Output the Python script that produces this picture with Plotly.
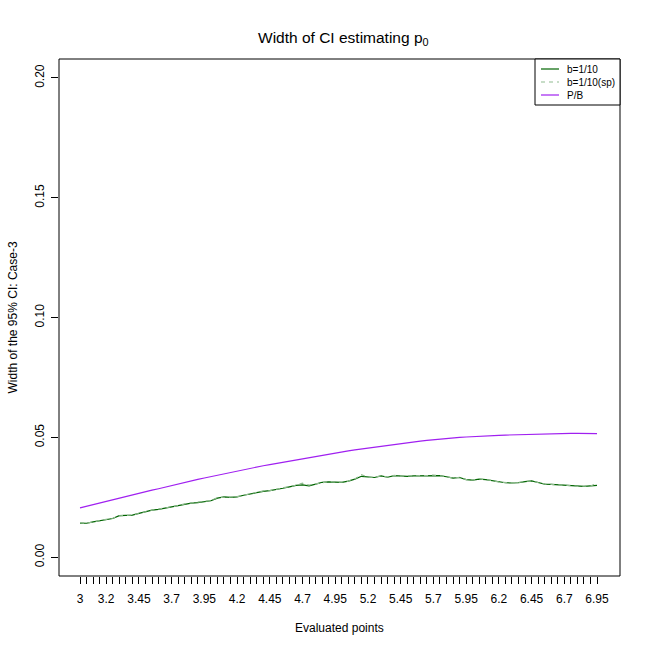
import plotly.graph_objects as go

x_points = [3.00, 3.05, 3.10, 3.15, 3.20, 3.25, 3.30, 3.35, 3.40, 3.45,
            3.50, 3.55, 3.60, 3.65, 3.70, 3.75, 3.80, 3.85, 3.90, 3.95,
            4.00, 4.05, 4.10, 4.15, 4.20, 4.25, 4.30, 4.35, 4.40, 4.45,
            4.50, 4.55, 4.60, 4.65, 4.70, 4.75, 4.80, 4.85, 4.90, 4.95,
            5.00, 5.05, 5.10, 5.15, 5.20, 5.25, 5.30, 5.35, 5.40, 5.45,
            5.50, 5.55, 5.60, 5.65, 5.70, 5.75, 5.80, 5.85, 5.90, 5.95,
            6.00, 6.05, 6.10, 6.15, 6.20, 6.25, 6.30, 6.35, 6.40, 6.45,
            6.50, 6.55, 6.60, 6.65, 6.70, 6.75, 6.80, 6.85, 6.90, 6.95]

labelled_points = [3.00, 3.20, 3.45, 3.70, 3.95, 4.20, 4.45, 4.70, 4.95,
                   5.20, 5.45, 5.70, 5.95, 6.20, 6.45, 6.70, 6.95]
labelled_text = ["3", "3.2", "3.45", "3.7", "3.95", "4.2", "4.45", "4.7", "4.95",
                 "5.2", "5.45", "5.7", "5.95", "6.2", "6.45", "6.7", "6.95"]

b_1_10 = [0.0143, 0.0142, 0.0148, 0.0152, 0.0156, 0.0162, 0.0174, 0.0175, 0.0176, 0.0183,
          0.0190, 0.0197, 0.0200, 0.0205, 0.0210, 0.0216, 0.0222, 0.0226, 0.0228, 0.0231,
          0.0236, 0.0247, 0.0252, 0.0250, 0.0252, 0.0259, 0.0265, 0.0271, 0.0275, 0.0278,
          0.0282, 0.0288, 0.0294, 0.0300, 0.0302, 0.0298, 0.0305, 0.0313, 0.0315, 0.0314,
          0.0313, 0.0318, 0.0326, 0.0338, 0.0335, 0.0333, 0.0340, 0.0334, 0.0341, 0.0339,
          0.0338, 0.0340, 0.0340, 0.0341, 0.0342, 0.0341, 0.0336, 0.0330, 0.0333, 0.0324,
          0.0322, 0.0326, 0.0324, 0.0319, 0.0314, 0.0311, 0.0310, 0.0311, 0.0316, 0.0319,
          0.0312, 0.0305, 0.0304, 0.0302, 0.0299, 0.0298, 0.0296, 0.0296, 0.0298, 0.0300]

b_1_10_sp = [0.0145, 0.0141, 0.0148, 0.0153, 0.0156, 0.0163, 0.0173, 0.0175, 0.0177, 0.0183,
             0.0191, 0.0197, 0.0201, 0.0205, 0.0211, 0.0216, 0.0223, 0.0226, 0.0229, 0.0231,
             0.0237, 0.0249, 0.0251, 0.0250, 0.0253, 0.0259, 0.0266, 0.0271, 0.0277, 0.0278,
             0.0283, 0.0288, 0.0295, 0.0301, 0.0309, 0.0301, 0.0306, 0.0312, 0.0316, 0.0314,
             0.0314, 0.0318, 0.0327, 0.0345, 0.0334, 0.0334, 0.0340, 0.0335, 0.0342, 0.0339,
             0.0339, 0.0340, 0.0341, 0.0341, 0.0343, 0.0340, 0.0337, 0.0330, 0.0334, 0.0324,
             0.0323, 0.0327, 0.0324, 0.0320, 0.0314, 0.0312, 0.0310, 0.0312, 0.0317, 0.0318,
             0.0312, 0.0306, 0.0304, 0.0303, 0.0299, 0.0299, 0.0296, 0.0297, 0.0297, 0.0310]

p_b = [0.0206, 0.0213, 0.0219, 0.0226, 0.0233, 0.0240, 0.0246, 0.0253, 0.0260, 0.0266,
       0.0273, 0.0280, 0.0286, 0.0293, 0.0299, 0.0306, 0.0312, 0.0318, 0.0325, 0.0331,
       0.0337, 0.0343, 0.0349, 0.0355, 0.0360, 0.0366, 0.0371, 0.0377, 0.0382, 0.0387,
       0.0392, 0.0397, 0.0402, 0.0407, 0.0412, 0.0417, 0.0421, 0.0426, 0.0430, 0.0435,
       0.0439, 0.0444, 0.0448, 0.0452, 0.0456, 0.0460, 0.0464, 0.0468, 0.0472, 0.0475,
       0.0479, 0.0482, 0.0485, 0.0488, 0.0491, 0.0494, 0.0496, 0.0498, 0.0500, 0.0502,
       0.0504, 0.0506, 0.0507, 0.0508, 0.0509, 0.0510, 0.0511, 0.0512, 0.0513, 0.0514,
       0.0515, 0.0515, 0.0516, 0.0516, 0.0517, 0.0517, 0.0517, 0.0517, 0.0516, 0.0516]

series_names = ["b=1/10", "b=1/10(sp)", "P/B"]
series_colors = ["#006400", "#8fbc8f", "#a020f0"]
series_dashes = ["solid", "4px,4px", "solid"]

y_ticks = [0.00, 0.05, 0.10, 0.15, 0.20]
y_ticktext = ["0.00", "0.05", "0.10", "0.15", "0.20"]

tick_text_all = []
for xv in x_points:
    match = [t for v, t in zip(labelled_points, labelled_text) if abs(v - xv) < 1e-9]
    tick_text_all.append(match[0] if match else "")

FONT = "Liberation Sans, Arial, sans-serif"

fig = go.Figure()
for ys, nm, col, dsh in zip([b_1_10, b_1_10_sp, p_b], series_names, series_colors, series_dashes):
    fig.add_trace(go.Scatter(x=x_points, y=ys, mode="lines", name=nm,
                             line=dict(color=col, width=1.2, dash=dsh), showlegend=False))

# manual R-style legend (paper coordinates of the plot frame)
PW, PH = 561.0, 517.0
def px_x(p):
    return (p - 59) / PW
def px_y(p):
    return (576 - p) / PH

shapes = [dict(type="rect", xref="paper", yref="paper", x0=0, x1=1, y0=0, y1=1,
               line=dict(color="black", width=1), fillcolor="rgba(0,0,0,0)", layer="above"),
          dict(type="rect", xref="paper", yref="paper", x0=px_x(535), x1=1, y0=px_y(105), y1=1,
               line=dict(color="black", width=1), fillcolor="white", layer="above")]
annotations = []
for k, (nm, col, dsh) in enumerate(zip(series_names, series_colors, series_dashes)):
    yy = px_y(69 + 13 * k)
    shapes.append(dict(type="line", xref="paper", yref="paper", x0=px_x(541), x1=px_x(559),
                       y0=yy, y1=yy, line=dict(color=col, width=1.2, dash=dsh), layer="above"))
    annotations.append(dict(text=nm, xref="paper", yref="paper", x=px_x(565), y=yy,
                            xanchor="left", yanchor="middle", showarrow=False,
                            font=dict(size=10, family=FONT)))

annotations += [
    dict(text="Width of CI estimating p<sub>0</sub>", xref="paper", yref="paper",
         x=0.5, y=1, yshift=21, xshift=4, xanchor="center", yanchor="middle", showarrow=False,
         font=dict(size=15.5, family=FONT)),
    dict(text="Evaluated points", xref="paper", yref="paper", x=0.5, y=0, yshift=-52,
         xanchor="center", yanchor="middle", showarrow=False, font=dict(size=12, family=FONT)),
    dict(text="Width of the 95% CI: Case-3", xref="paper", yref="paper", x=0, y=0.5,
         xshift=-47, xanchor="center", yanchor="middle", textangle=-90, showarrow=False,
         font=dict(size=12, family=FONT)),
]

fig.update_layout(
    width=650, height=650,
    margin=dict(l=59, r=30, t=59, b=74),
    paper_bgcolor="white", plot_bgcolor="white",
    font=dict(family=FONT, size=12, color="black"),
    showlegend=False,
    xaxis=dict(range=[2.8395, 7.1255], tickmode="array", tickvals=x_points,
               ticktext=tick_text_all, ticks="outside", ticklen=7, tickcolor="black",
               tickwidth=1, showgrid=False, zeroline=False, showline=False,
               tickangle=0, tickfont=dict(size=12), ticklabelstandoff=5),
    yaxis=dict(range=[-0.0078, 0.2079], tickmode="array", tickvals=y_ticks,
               ticktext=y_ticktext, ticks="outside", ticklen=7, tickcolor="black",
               tickwidth=1, showgrid=False, zeroline=False, showline=False,
               tickangle=-90, tickfont=dict(size=12), ticklabelstandoff=2),
    shapes=shapes,
    annotations=annotations,
)

fig.write_html("out.html", config={"displayModeBar": False},
               post_script="document.body.style.margin='0';")
